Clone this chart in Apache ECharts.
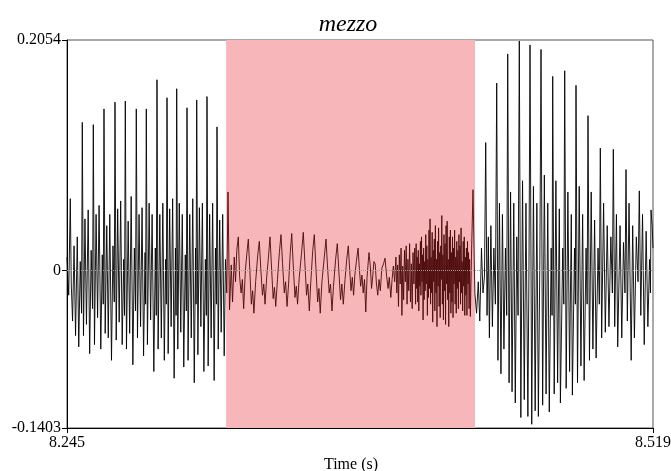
<!DOCTYPE html>
<html>
<head>
<meta charset="utf-8">
<script src="https://cdn.jsdelivr.net/npm/echarts@6/dist/echarts.min.js"></script>
<style>
html,body{margin:0;padding:0;background:#fff;}
#chart{width:671px;height:471px;}
</style>
</head>
<body>
<div id="chart"></div>
<script>
// Axis range
const timeStart = 8.245;
const timeEnd = 8.519;
const ampMin = -0.1403;
const ampMax = 0.2054;
const yTickValues = [-0.1403, 0, 0.2054];
const xTickValues = [8.245, 8.519];
// Highlighted (selected) interval, seconds
const selection = [8.3194, 8.4358];
const titleText = 'mezzo';
const xAxisTitle = 'Time (s)';

// Waveform samples: [ms after 8.245 s, amplitude]
const leftPart = [
[0.0,0.012],[0.8,-0.022],[1.54,0.064],[2.0,-0.012],[2.6,-0.045],[3.3,0.022],[4.0,-0.058],[4.8,0.03],[5.5,-0.068],[6.2,0.008],[6.8,-0.038],
[7.15,0.132],[7.7,-0.058],[8.4,0.046],[9.1,-0.048],[9.9,0.054],[10.6,-0.074],[11.3,0.018],[11.95,-0.034],
[12.3,0.13],[12.85,-0.066],[13.6,0.05],[14.3,-0.042],[15.0,0.058],[15.8,-0.07],[16.5,0.014],[16.95,-0.03],
[17.3,0.144],[17.85,-0.056],[18.6,0.04],[19.3,-0.06],[20.0,0.05],[20.8,-0.08],[21.5,0.022],[22.1,-0.028],
[22.44,0.15],[23.0,-0.062],[23.7,0.055],[24.4,-0.046],[25.1,0.062],[25.8,-0.066],[26.5,0.01],[26.9,-0.04],
[27.26,0.151],[27.8,-0.07],[28.6,0.044],[29.3,-0.056],[30.0,0.066],[30.8,-0.084],[31.5,0.02],[32.05,-0.036],
[32.4,0.144],[32.95,-0.06],[33.7,0.05],[34.4,-0.05],[35.1,0.056],[35.8,-0.076],[36.5,0.016],[36.75,-0.03],
[37.08,0.144],[37.6,-0.066],[38.4,0.06],[39.1,-0.044],[39.8,0.05],[40.6,-0.09],[41.3,0.02],[41.75,-0.04],
[42.08,0.17],[42.6,-0.07],[43.4,0.05],[44.1,-0.06],[44.8,0.06],[45.5,-0.08],[46.1,0.01],[46.45,-0.03],
[46.76,0.154],[47.3,-0.074],[48.0,0.055],[48.7,-0.05],[49.4,0.064],[50.1,-0.096],[50.7,0.02],[51.0,-0.04],
[51.29,0.162],[51.8,-0.07],[52.5,0.06],[53.2,-0.055],[53.9,0.05],[54.6,-0.086],[55.3,0.014],[55.8,-0.036],
[56.11,0.145],[56.6,-0.08],[57.4,0.05],[58.1,-0.06],[58.8,0.064],[59.5,-0.1],[60.1,0.02],[60.35,-0.03],
[60.65,0.152],[61.2,-0.075],[61.9,0.056],[62.6,-0.05],[63.3,0.06],[64.0,-0.09],[64.7,0.01],[65.15,-0.04],
[65.46,0.155],[66.0,-0.085],[66.7,0.05],[67.4,-0.06],[68.1,0.06],[68.8,-0.098],[69.4,0.02],[69.85,-0.03],
[70.14,0.128],[70.7,-0.07],[71.4,0.045],[72.1,-0.055],[72.8,0.05],[73.5,-0.076],[74.1,0.01]
];
const pinkPart = [
[74.7,-0.02],[75.28,0.07],[76.0,-0.035],[76.8,0.005],[77.4,-0.028],[78.2,0.012],[78.8,-0.01],[79.4,0.018],[80.1,0.03],[80.7,-0.005],[81.4,-0.02],[82.0,-0.008],[82.6,-0.034],[83.4,0.0],[84.1,0.015],[84.78,0.028],[85.5,0.0],[86.2,-0.03],[86.8,-0.018],[87.4,-0.038],[88.2,-0.01],[89.2,0.014],[89.92,0.026],[90.6,0.002],[91.4,-0.022],[92.0,-0.012],[92.6,-0.03],[93.4,-0.005],[94.2,0.012],[94.92,0.03],[95.6,0.004],[96.4,-0.025],[97.0,-0.015],[97.6,-0.032],[98.4,-0.008],[99.3,0.016],[100.06,0.032],[100.8,0.006],[101.6,-0.02],[102.2,-0.01],[102.9,-0.032],[103.6,-0.012],[104.4,0.016],[105.07,0.033],[105.8,0.004],[106.6,-0.024],[107.2,-0.014],[107.8,-0.03],[108.6,-0.006],[109.6,0.014],[110.49,0.034],[111.2,0.008],[112.0,-0.022],[112.6,-0.012],[113.3,-0.036],[114.0,-0.01],[114.9,0.018],[115.64,0.032],[116.4,0.002],[117.2,-0.028],[117.8,-0.016],[118.4,-0.038],[119.2,-0.01],[120.3,0.012],[121.11,0.028],[121.8,0.004],[122.6,-0.02],[123.2,-0.012],[123.9,-0.036],[124.6,-0.014],[125.6,0.01],[126.39,0.024],[127.1,0.0],[127.9,-0.026],[128.5,-0.012],[129.2,-0.03],[130.0,-0.008],[130.8,0.01],[131.53,0.022],
[132.2,0.0],[132.8,-0.018],[133.4,-0.006],[134.0,-0.022],[134.6,-0.004],[135.3,0.008],[136.1,0.02],[136.7,0.002],[137.3,-0.014],[137.9,-0.004],[138.5,-0.02],[139.1,-0.008],[139.7,-0.037],[140.3,-0.006],[141.2,0.016],[141.8,0.004],[142.4,-0.016],[143.0,-0.004],[143.5,0.008],[144.1,0.006],[144.7,-0.012],[145.3,-0.022],[145.9,-0.008],[146.5,-0.018],[147.2,0.002],[148.0,0.006],[148.7,0.011],[149.4,-0.004],[150.1,-0.016],[150.7,-0.006],[151.4,-0.024],[152.0,-0.008],[152.6,0.004],[153.2,-0.01],
[153.8,0.012],[154.2,-0.02],[154.6,0.005],[155.0,-0.032],[155.4,0.014],[155.8,-0.012],[156.2,0.02],[156.6,-0.04],[157.0,0.004],[157.4,-0.026],[157.8,0.018],[158.2,-0.01],[158.6,0.022],[159.0,-0.03],[159.4,0.01],[159.8,-0.018],[160.2,0.024],[160.6,-0.028],[161.0,0.006],[161.4,-0.034],[161.8,0.016],[162.2,-0.012],[162.6,0.02],[163.0,-0.03],
[163.25,0.024],[163.5,-0.016],[163.75,0.012],[164.0,-0.028],[164.25,0.018],[164.5,-0.036],[164.75,0.006],[165.0,-0.014],[165.25,0.026],[165.5,-0.022],[165.75,0.03],[166.0,-0.01],[166.25,0.014],[166.5,-0.044],[166.75,0.02],[167.0,-0.026],[167.25,0.008],[167.5,-0.018],[167.75,0.032],[168.0,-0.012],[168.25,0.022],[168.5,-0.04],[168.75,0.01],[169.0,-0.024],[169.25,0.036],[169.5,-0.016],[169.75,0.046],[170.0,-0.03],[170.25,0.012],[170.5,-0.02],[170.75,0.034],[171.0,-0.046],[171.25,0.018],[171.5,-0.01],[171.75,0.028],[172.0,-0.036],[172.25,0.04],[172.5,-0.02],[172.75,0.01],[173.0,-0.05],[173.25,0.026],[173.5,-0.014],[173.75,0.038],[174.0,-0.032],[174.25,0.016],[174.5,-0.042],[174.75,0.022],[175.0,-0.008],[175.25,0.049],[175.5,-0.03],[175.75,0.014],[176.0,-0.044],[176.25,0.032],[176.5,-0.018],[176.75,0.024],[177.0,-0.048],[177.25,0.04],[177.5,-0.012],[177.75,0.044],[178.0,-0.026],[178.25,0.01],[178.5,-0.05],[178.75,0.03],[179.0,-0.02],[179.25,0.036],[179.5,-0.038],[179.75,0.016],[180.0,-0.028],[180.25,0.03],[180.5,-0.042],[180.75,0.02],[181.0,-0.012],[181.25,0.036],[181.5,-0.03],[181.75,0.012],[182.0,-0.038],[182.25,0.026],[182.5,-0.016],[182.75,0.018],[183.0,-0.034],[183.25,0.032],[183.5,-0.01],[183.75,0.022],[184.0,-0.03],[184.25,0.038],[184.5,-0.02],[184.75,0.008],[185.0,-0.036],[185.25,0.026],[185.5,-0.014],[185.75,0.03],[186.0,-0.04],[186.25,0.012],[186.5,-0.022],[186.75,0.02],[187.0,-0.04],[187.25,0.026],[187.5,-0.012],[187.75,0.016],[188.0,-0.034],[188.25,0.01],[188.6,-0.041],
[189.2,0.02],[189.84,0.072],[190.4,0.01],[190.7,-0.02]
];
const rightPart = [
[191.5,-0.038],[192.3,-0.01],[193.0,-0.045],[193.8,0.02],[194.5,-0.02],[195.2,-0.005],
[195.78,0.114],[196.4,-0.04],[197.0,0.03],[197.5,-0.06],[198.2,0.04],[198.9,-0.05],[199.6,0.02],[200.3,-0.03],
[200.92,0.167],[201.5,-0.08],[202.2,0.06],[202.9,-0.092],[203.6,0.05],[204.3,-0.07],[205.0,0.02],[205.6,-0.04],
[206.07,0.193],[206.7,-0.1],[207.4,0.07],[208.1,-0.108],[208.9,0.06],[209.6,-0.118],[210.3,0.03],[210.9,-0.04],
[211.49,0.2045],[212.2,-0.131],[213.0,0.08],[213.8,-0.115],[214.6,0.06],[215.5,-0.13],[216.0,0.0],
[216.49,0.201],[217.3,-0.137],[218.1,0.075],[218.9,-0.125],[219.7,0.06],[220.4,-0.13],[221.1,0.01],
[221.64,0.197],[222.4,-0.12],[223.2,0.085],[224.0,-0.11],[224.8,0.06],[225.5,-0.126],[226.4,0.02],[226.8,-0.04],
[227.11,0.173],[227.8,-0.11],[228.6,0.08],[229.4,-0.1],[230.2,0.055],[230.7,-0.118],[231.8,0.02],[232.3,-0.03],
[232.72,0.178],[233.4,-0.105],[234.2,0.07],[235.0,-0.09],[235.8,0.05],[236.3,-0.111],[237.3,0.02],[237.7,-0.03],
[238.0,0.165],[238.7,-0.1],[239.5,0.075],[240.3,-0.085],[241.1,0.05],[241.8,-0.098],[242.7,0.02],[243.2,-0.03],
[243.61,0.138],[244.3,-0.08],[245.1,0.07],[245.9,-0.07],[246.7,0.045],[247.4,-0.078],[248.3,0.02],[248.9,-0.03],
[249.37,0.109],[250.0,-0.06],[250.9,0.06],[251.7,-0.055],[252.6,0.04],[253.4,-0.05],[254.3,0.03],[255.0,-0.02],
[255.45,0.108],[256.1,-0.05],[256.9,0.05],[257.5,-0.068],[258.6,0.04],[259.4,-0.06],[260.2,0.025],[260.9,-0.02],
[261.38,0.09],[262.0,-0.045],[262.8,0.06],[263.8,-0.08],[264.5,0.04],[265.3,-0.06],[266.2,0.03],[267.0,-0.01],
[267.6,0.071],[268.3,-0.04],[269.1,0.05],[269.9,-0.066],[270.8,0.035],[271.6,-0.05],[272.4,0.01],[272.8,-0.02],
[273.07,0.054],[273.6,0.04],[274.0,0.02]
];

const toSeconds = p => [timeStart + p[0] / 1000, p[1]];
const waveData = leftPart.concat(pinkPart, rightPart).map(toSeconds);

const serif = 'Liberation Serif';
const chart = echarts.init(document.getElementById('chart'), null, {renderer: 'canvas'});
chart.setOption({
  animation: false,
  backgroundColor: '#fff',
  title: [
    {text: titleText, left: 343, top: 8, textAlign: 'center',
     textStyle: {fontFamily: serif, fontStyle: 'italic', fontWeight: 'normal', fontSize: 24, color: '#000'}},
    {text: xAxisTitle, left: 346, top: 452, textAlign: 'center',
     textStyle: {fontFamily: serif, fontWeight: 'normal', fontSize: 16, color: '#000'}}
  ],
  grid: {left: 67, right: 18, top: 40, bottom: 43, containLabel: false, outerBoundsMode: 'none',
         show: true, borderColor: '#555', borderWidth: 1, backgroundColor: 'transparent'},
  visualMap: {
    show: false, type: 'piecewise', dimension: 0, seriesIndex: 1,
    pieces: [
      {lt: selection[0], color: '#000'},
      {gte: selection[0], lt: selection[1], color: '#4a0808'},
      {gte: selection[1], color: '#000'}
    ]
  },
  xAxis: {
    type: 'value', min: timeStart, max: timeEnd,
    axisLine: {show: true, onZero: false, lineStyle: {color: '#000', width: 1}},
    axisTick: {show: true, inside: false, length: 5, customValues: xTickValues, lineStyle: {color: '#000'}},
    axisLabel: {show: true, customValues: xTickValues, margin: 7, fontFamily: serif, fontSize: 16, color: '#000',
                formatter: v => v.toFixed(3)},
    splitLine: {show: false}
  },
  yAxis: {
    type: 'value', min: ampMin, max: ampMax,
    axisLine: {show: true, onZero: false, lineStyle: {color: '#000', width: 1}},
    axisTick: {show: true, inside: false, length: 5, customValues: yTickValues, lineStyle: {color: '#000'}},
    axisLabel: {show: true, customValues: yTickValues, margin: 6, fontFamily: serif, fontSize: 16, color: '#000',
                formatter: v => (v === 0 ? '0' : String(v))},
    splitLine: {show: false}
  },
  series: [
    {
      type: 'line', data: [], silent: true, z: 1,
      markArea: {silent: true, itemStyle: {color: '#f7b6b9'},
        data: [[{xAxis: selection[0]}, {xAxis: selection[1]}]]}
    },
    {
      type: 'line', data: waveData, showSymbol: false, symbol: 'none', silent: true, z: 3, clip: true,
      lineStyle: {width: 0.9, join: 'bevel'},
      markLine: {silent: true, symbol: 'none', label: {show: false},
        lineStyle: {color: '#999', type: 'dotted', width: 1},
        data: [{yAxis: 0}]}
    }
  ]
});
</script>
</body>
</html>
